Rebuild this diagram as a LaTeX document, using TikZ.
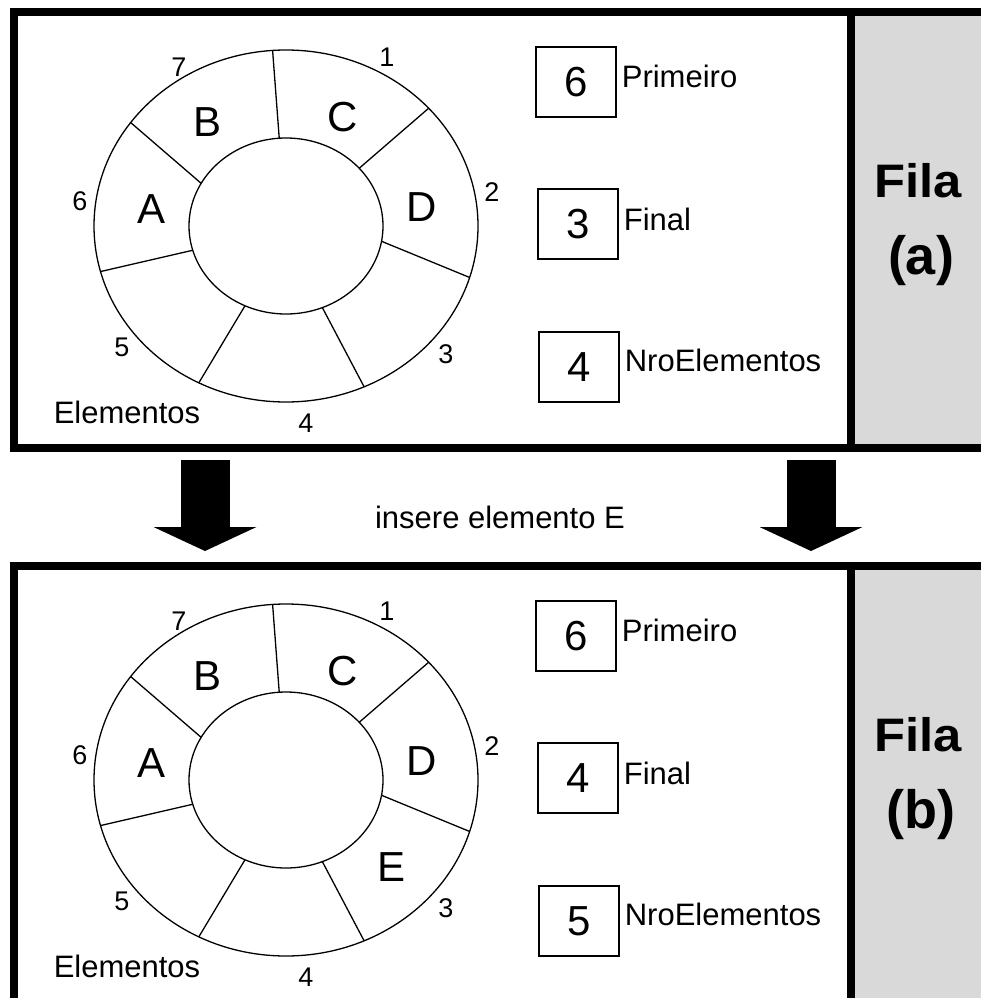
\documentclass[tikz,border=0pt]{standalone}
\usepackage{fontspec}
\setmainfont{Liberation Sans}
\usetikzlibrary{arrows.meta, positioning}

\begin{document}
\begin{tikzpicture}[
  x=1pt, y=-1pt,
  frame/.style={line width=7.5pt},
  ring/.style={line width=1.3pt},
  slotTxt/.style={font=\fontsize{42}{42}\selectfont},
  idxTxt/.style={font=\fontsize{27}{27}\selectfont},
  valBox/.style={draw, line width=1.3pt, minimum width=80pt, minimum height=70pt,
                 inner sep=0pt, font=\fontsize{42}{42}\selectfont},
  varName/.style={inner sep=0pt, font=\fontsize{31}{31}\selectfont},
  filaTxt/.style={font=\bfseries\fontsize{47}{47}\selectfont},
  tagTxt/.style={font=\bfseries\fontsize{54}{54}\selectfont},
  bigArr/.style={line width=49pt, -{Triangle[width=103pt, length=24pt, line width=0pt]}}
]
\useasboundingbox (0,0) rectangle (981,998);
\clip (0,0) rectangle (981,998);

% two queue states: offset / final / count / tag
\foreach \dy/\fin/\nro/\tg in {0/3/4/a, 554/4/5/b} {
  \begin{scope}[shift={(0,\dy)}]
    \fill[black!15] (851,12) rectangle (995,448);
    \draw[frame] (14,12) rectangle (1000,448);
    \draw[frame] (851,12) -- (851,448);
    % circular array
    \begin{scope}[shift={(286,226)}, yscale=-1]
      \draw[ring] (0,0) ellipse [x radius=192, y radius=176];
      \draw[ring] (0,0) ellipse [x radius=97, y radius=88];
      \foreach \i/\o in {94/94,41/42,-10/-17,-68/-66,-115/-117,196/195,151/144}
        \draw[ring] (\i:97 and 88) -- (\o:192 and 176);
    \end{scope}
    \node[slotTxt] (slotA\tg) at (152,209) {A};
    \node[slotTxt] (slotB\tg) at (208,122) {B};
    \node[slotTxt] (slotC\tg) at (343,117) {C};
    \node[slotTxt] (slotD\tg) at (422,207) {D};
    \node[idxTxt] (idx1\tg) at (387,57) {1};
    \node[idxTxt] (idx2\tg) at (492,192) {2};
    \node[idxTxt] (idx3\tg) at (446,354) {3};
    \node[idxTxt] (idx4\tg) at (306,423) {4};
    \node[idxTxt] (idx5\tg) at (122,347) {5};
    \node[idxTxt] (idx6\tg) at (80,201) {6};
    \node[idxTxt] (idx7\tg) at (179,67) {7};
    \node[varName] (elem\tg) at (127,412) {Elementos};
    % control fields
    \node[valBox] (prim\tg) at (576,82) {6};
    \node[valBox] (fin\tg) at (578,224) {\fin};
    \node[valBox] (nro\tg) at (579,367) {\nro};
    \node[varName, right=5pt of prim\tg.east, anchor=west, yshift=6pt] (primL\tg) {Primeiro};
    \node[varName, right=5pt of fin\tg.east, anchor=west, yshift=5pt] (finL\tg) {Final};
    \node[varName, right=5pt of nro\tg.east, anchor=west, yshift=7pt] (nroL\tg) {NroElementos};
    % side tag
    \node[filaTxt] (fila\tg) at (918,181) {\scalebox{1.08}[1]{Fila}};
    \node[tagTxt] (tag\tg) at (921,261) {(\tg)};
  \end{scope}
}
\node[slotTxt] (slotE) at (392,867) {E};

% insertion step
\coordinate (arrL1) at (205,460);
\coordinate (arrL2) at (205,551);
\coordinate (arrR1) at (811,460);
\coordinate (arrR2) at (811,551);
\draw[bigArr] (arrL1) -- (arrL2);
\draw[bigArr] (arrR1) -- (arrR2);
\node[varName] (ins) at (500,517) {insere elemento E};
\end{tikzpicture}
\end{document}
